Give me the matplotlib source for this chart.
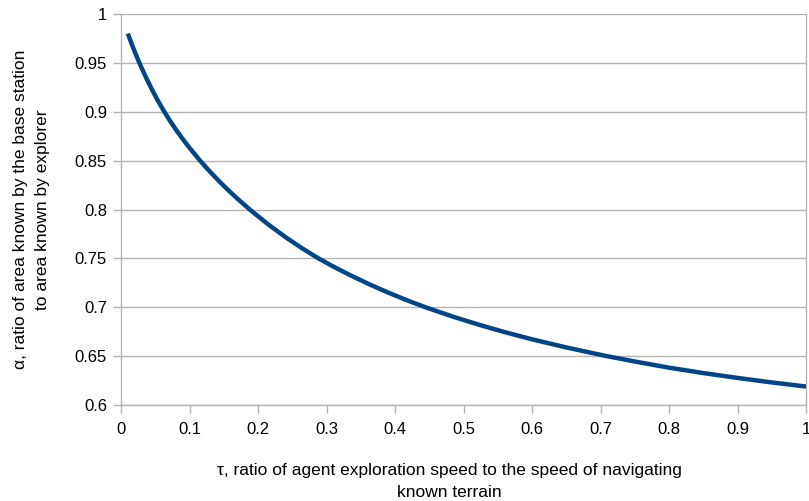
import matplotlib
matplotlib.use("Agg")
import matplotlib.pyplot as plt

tau = [0.01, 0.015, 0.02, 0.025, 0.03, 0.037, 0.045, 0.053, 0.062, 0.07, 0.08, 0.09,
       0.10, 0.115, 0.13, 0.145, 0.16, 0.175, 0.19, 0.215, 0.24, 0.264, 0.288, 0.31,
       0.334, 0.36, 0.39, 0.418, 0.446, 0.485, 0.524, 0.56, 0.60, 0.65, 0.707, 0.75,
       0.80, 0.85, 0.90, 0.95, 1.0]
alpha = [0.9800, 0.9705, 0.9615, 0.9530, 0.9450, 0.9343, 0.9230, 0.9124, 0.9014, 0.8924,
         0.8819, 0.8722, 0.8631, 0.8503, 0.8386, 0.8277, 0.8175, 0.8079, 0.7988, 0.7847,
         0.7718, 0.7605, 0.7501, 0.7416, 0.7330, 0.7243, 0.7150, 0.7070, 0.6996, 0.6903,
         0.6818, 0.6746, 0.6672, 0.6589, 0.6503, 0.6445, 0.6382, 0.6327, 0.6277, 0.6231,
         0.6189]

x_ticks = [0, 0.1, 0.2, 0.3, 0.4, 0.5, 0.6, 0.7, 0.8, 0.9, 1]
x_tick_labels = ["0", "0.1", "0.2", "0.3", "0.4", "0.5", "0.6", "0.7", "0.8", "0.9", "1"]
y_ticks = [0.6, 0.65, 0.7, 0.75, 0.8, 0.85, 0.9, 0.95, 1]
y_tick_labels = ["0.6", "0.65", "0.7", "0.75", "0.8", "0.85", "0.9", "0.95", "1"]

plt.rcParams['font.family'] = ['Liberation Sans', 'DejaVu Sans']

fig = plt.figure(figsize=(8.09, 5.01), dpi=100)
ax = fig.add_axes([121/809, 1 - 405/501, (806 - 121)/809, (405 - 14)/501])

grid_c = "#b3b3b3"
ax.plot(tau, alpha, color="#004586", linewidth=3.2, solid_joinstyle="round",
        solid_capstyle="butt", zorder=3)

ax.set_xlim(0, 1)
ax.set_ylim(0.6, 1)
ax.set_xticks(x_ticks)
ax.set_xticklabels(x_tick_labels)
ax.set_yticks(y_ticks)
ax.set_yticklabels(y_tick_labels)
ax.yaxis.grid(True, color=grid_c, linewidth=1.0)
ax.set_axisbelow(True)

for s in ["left", "bottom", "right"]:
    ax.spines[s].set_color(grid_c)
    ax.spines[s].set_linewidth(1.0)
ax.spines["top"].set_visible(False)

ax.tick_params(axis="both", direction="out", length=6, width=1.0, color=grid_c,
               labelsize=12, labelcolor="black")
ax.tick_params(axis="x", pad=6)
ax.tick_params(axis="y", pad=4)

ax.set_xlabel("τ, ratio of agent exploration speed to the speed of navigating\nknown terrain",
              fontsize=12.5, linespacing=1.6)
ax.set_ylabel("α, ratio of area known by the base station\nto area known by explorer",
              fontsize=12.5, labelpad=18, linespacing=1.6)
ax.xaxis.set_label_coords(0.480, -0.148, transform=ax.transAxes)
ax.xaxis.label.set_verticalalignment("top")

fig.savefig("out.png", dpi=100, facecolor="white")
